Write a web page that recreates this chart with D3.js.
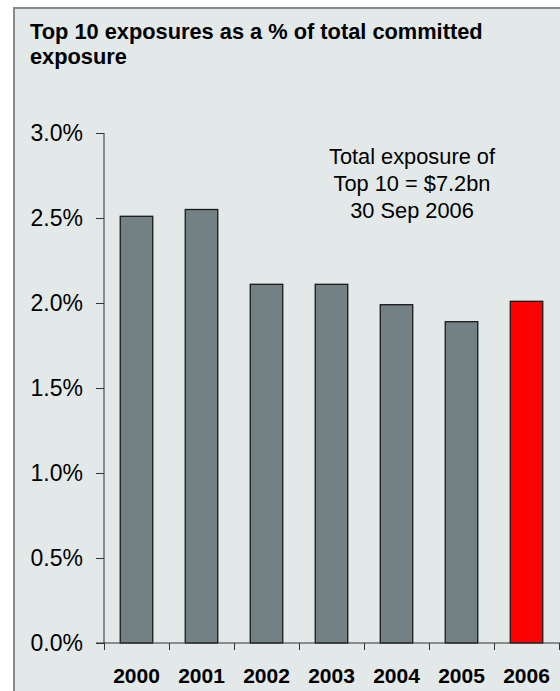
<!DOCTYPE html>
<html>
<head>
<meta charset="utf-8">
<script src="https://cdn.jsdelivr.net/npm/d3@7"></script>
<style>
  html, body { margin: 0; padding: 0; background: #ffffff; }
  svg { display: block; }
  text { font-family: "Liberation Sans", Arial, sans-serif; fill: #000; }
</style>
</head>
<body>
<script>
const years = ["2000", "2001", "2002", "2003", "2004", "2005", "2006"];
const values = [2.51, 2.55, 2.11, 2.11, 1.99, 1.89, 2.01];
const highlightYear = "2006";
const yTicks = [0, 0.5, 1.0, 1.5, 2.0, 2.5, 3.0];
const titleLines = ["Top 10 exposures as a % of total committed", "exposure"];
const noteLines = ["Total exposure of", "Top 10 = $7.2bn", "30 Sep 2006"];

(function () {
const W = 560, H = 691;
const svg = d3.select("body").append("svg").attr("width", W).attr("height", H);

// panel
svg.append("rect").attr("x", 0).attr("y", 0).attr("width", W).attr("height", H).attr("fill", "#ffffff");
svg.append("rect").attr("x", 14).attr("y", 8).attr("width", W).attr("height", H)
  .attr("fill", "#e3e8e8").attr("stroke", "#8a8a8a").attr("stroke-width", 2);

// title
svg.append("g").selectAll("text").data(titleLines).join("text")
  .attr("x", 30).attr("y", (d, i) => 39 + i * 25)
  .attr("font-size", 21.8).attr("font-weight", "bold").text(d => d);

const pl = 104, pr = 559, pt = 133, pb = 643;
const x = d3.scaleBand().domain(years).range([pl, pr]).paddingInner(0.5).paddingOuter(0.25);
const y = d3.scaleLinear().domain([0, 3]).range([pb, pt]);
const xb = d3.scaleLinear().domain([0, years.length]).range([pl, pr]);

// bars
svg.append("g").selectAll("rect").data(years).join("rect")
  .attr("x", d => x(d)).attr("width", x.bandwidth())
  .attr("y", (d, i) => y(values[i])).attr("height", (d, i) => y(0) - y(values[i]))
  .attr("fill", d => d === highlightYear ? "#ff0000" : "#738184")
  .attr("stroke", "#1a1a1a").attr("stroke-width", 1.3);

// y axis
const yAxis = svg.append("g").attr("transform", `translate(${pl},0)`)
  .call(d3.axisLeft(y).tickValues(yTicks).tickSize(8).tickPadding(13)
    .tickFormat(d => d3.format(".1%")(d / 100)));
yAxis.selectAll("path, line").attr("stroke", "#333");
yAxis.selectAll("text").attr("font-size", 23).attr("font-family", null).attr("fill", "#000");
yAxis.select(".domain").attr("d", `M0,${pt}V${pb}`);

// x axis boundary ticks
const xAxis = svg.append("g").attr("transform", `translate(0,${pb})`)
  .call(d3.axisBottom(xb).tickValues(d3.range(years.length + 1)).tickSizeInner(7).tickSizeOuter(0).tickFormat(""));
xAxis.selectAll("path, line").attr("stroke", "#333");
xAxis.select(".domain").attr("d", `M96,0H560`);

// x labels
const xLab = svg.append("g").attr("transform", `translate(0,${pb})`)
  .call(d3.axisBottom(x).tickSize(0));
xLab.select(".domain").remove();
xLab.selectAll("text").attr("font-size", 21).attr("font-weight", "bold").attr("font-family", null)
  .attr("fill", "#000").attr("y", 40).attr("dy", 0);

// annotation
svg.append("g").selectAll("text").data(noteLines).join("text")
  .attr("x", 412).attr("y", (d, i) => 164 + i * 27)
  .attr("text-anchor", "middle").attr("font-size", 21.8).text(d => d);
})();
</script>
</body>
</html>
